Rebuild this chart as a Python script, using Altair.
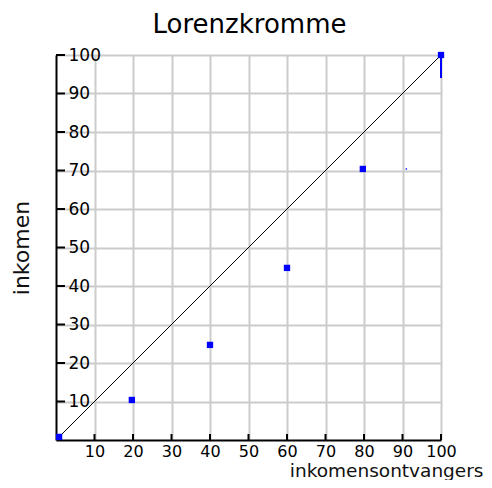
import altair as alt
import pandas as pd

# data
title_text = ["Lorenzkromme"]
pts_x = [0.8, 19.7, 40, 60, 79.7, 100]
pts_y = [0.8, 10.4, 24.7, 44.7, 70.4, 100]
dot_x = [91]
dot_y = [70.4]
seg_x = [100]
seg_y1 = [100]
seg_y2 = [94]
diag_x = [0, 100]
diag_y = [0, 100]
tick_vals = [10, 20, 30, 40, 50, 60, 70, 80, 90, 100]

FONT = "DejaVu Sans"
W = H = 385

pts = pd.DataFrame({"x": pts_x, "y": pts_y})
dot = pd.DataFrame({"x": dot_x, "y": dot_y})
seg = pd.DataFrame({"x": seg_x, "y": seg_y1, "y2": seg_y2})
diag = pd.DataFrame({"x": diag_x, "y": diag_y})
ticks = pd.DataFrame({"v": tick_vals})
ttl = pd.DataFrame({"t": title_text})

xscale = alt.Scale(domain=[0, 100], nice=False, zero=False)
yscale = alt.Scale(domain=[0, 100], nice=False, zero=False)

xaxis = alt.Axis(
    values=tick_vals, ticks=False, labelPadding=3, labelFlush=False,
    labelOverlap=False, labelFont=FONT, labelFontSize=16, labelColor="black",
    labelAlign="center", labelBaseline="top",
    domainColor="black", domainWidth=2,
    gridColor="#cccccc", gridWidth=2,
    title="inkomensontvangers", titleFont=FONT, titleFontSize=18.5,
    titleFontWeight="normal", titleColor="#111111",
    titleAlign="right", titleBaseline="alphabetic", titleX=427, titleY=36.5,
)
yaxis = alt.Axis(
    values=tick_vals, ticks=False, labelPadding=-12, labelFlush=False,
    labelOverlap=False, labelFont=FONT, labelFontSize=17, labelColor="black",
    labelAlign="left", labelBaseline="middle",
    domainColor="black", domainWidth=2,
    gridColor="#cccccc", gridWidth=2,
    title="inkomen", titleFont=FONT, titleFontSize=22,
    titleFontWeight="normal", titleColor="#111111",
    titleAngle=270, titleAlign="center", titleBaseline="alphabetic",
    titleX=-28, titleY=192.5,
)

base_diag = alt.Chart(diag).mark_line(color="black", strokeWidth=1).encode(
    x=alt.X("x:Q", scale=xscale, axis=xaxis),
    y=alt.Y("y:Q", scale=yscale, axis=yaxis),
)

xt = alt.Chart(ticks).mark_rule(color="black", strokeWidth=2).encode(
    x=alt.X("v:Q", scale=xscale),
    y=alt.value(H),
    y2=alt.value(H - 6),
)
yt = alt.Chart(ticks).mark_rule(color="black", strokeWidth=2).encode(
    y=alt.Y("v:Q", scale=yscale),
    x=alt.value(0),
    x2=alt.value(9),
)

pts_layer = alt.Chart(pts).mark_square(color="#0000ff", size=40, opacity=1).encode(
    x=alt.X("x:Q", scale=xscale),
    y=alt.Y("y:Q", scale=yscale),
)
dot_layer = alt.Chart(dot).mark_square(color="#0000ff", size=2, opacity=1).encode(
    x=alt.X("x:Q", scale=xscale),
    y=alt.Y("y:Q", scale=yscale),
)
seg_layer = alt.Chart(seg).mark_rule(color="#0000ff", strokeWidth=2).encode(
    x=alt.X("x:Q", scale=xscale),
    y=alt.Y("y:Q", scale=yscale),
    y2="y2:Q",
)
title_layer = alt.Chart(ttl).mark_text(
    font=FONT, fontSize=26, color="black", align="center", baseline="alphabetic"
).encode(
    text="t:N",
    x=alt.value(W / 2 + 1),
    y=alt.value(-22),
)

chart = alt.layer(
    base_diag, xt, yt, pts_layer, dot_layer, seg_layer, title_layer
).properties(
    width=W, height=H,
    autosize=alt.AutoSizeParams(type="none"),
    padding={"left": 48, "top": 47, "right": 43, "bottom": 40},
).configure_view(strokeWidth=0).configure(background="white")

chart.save("out.html", embed_options={"renderer": "svg", "actions": False})
